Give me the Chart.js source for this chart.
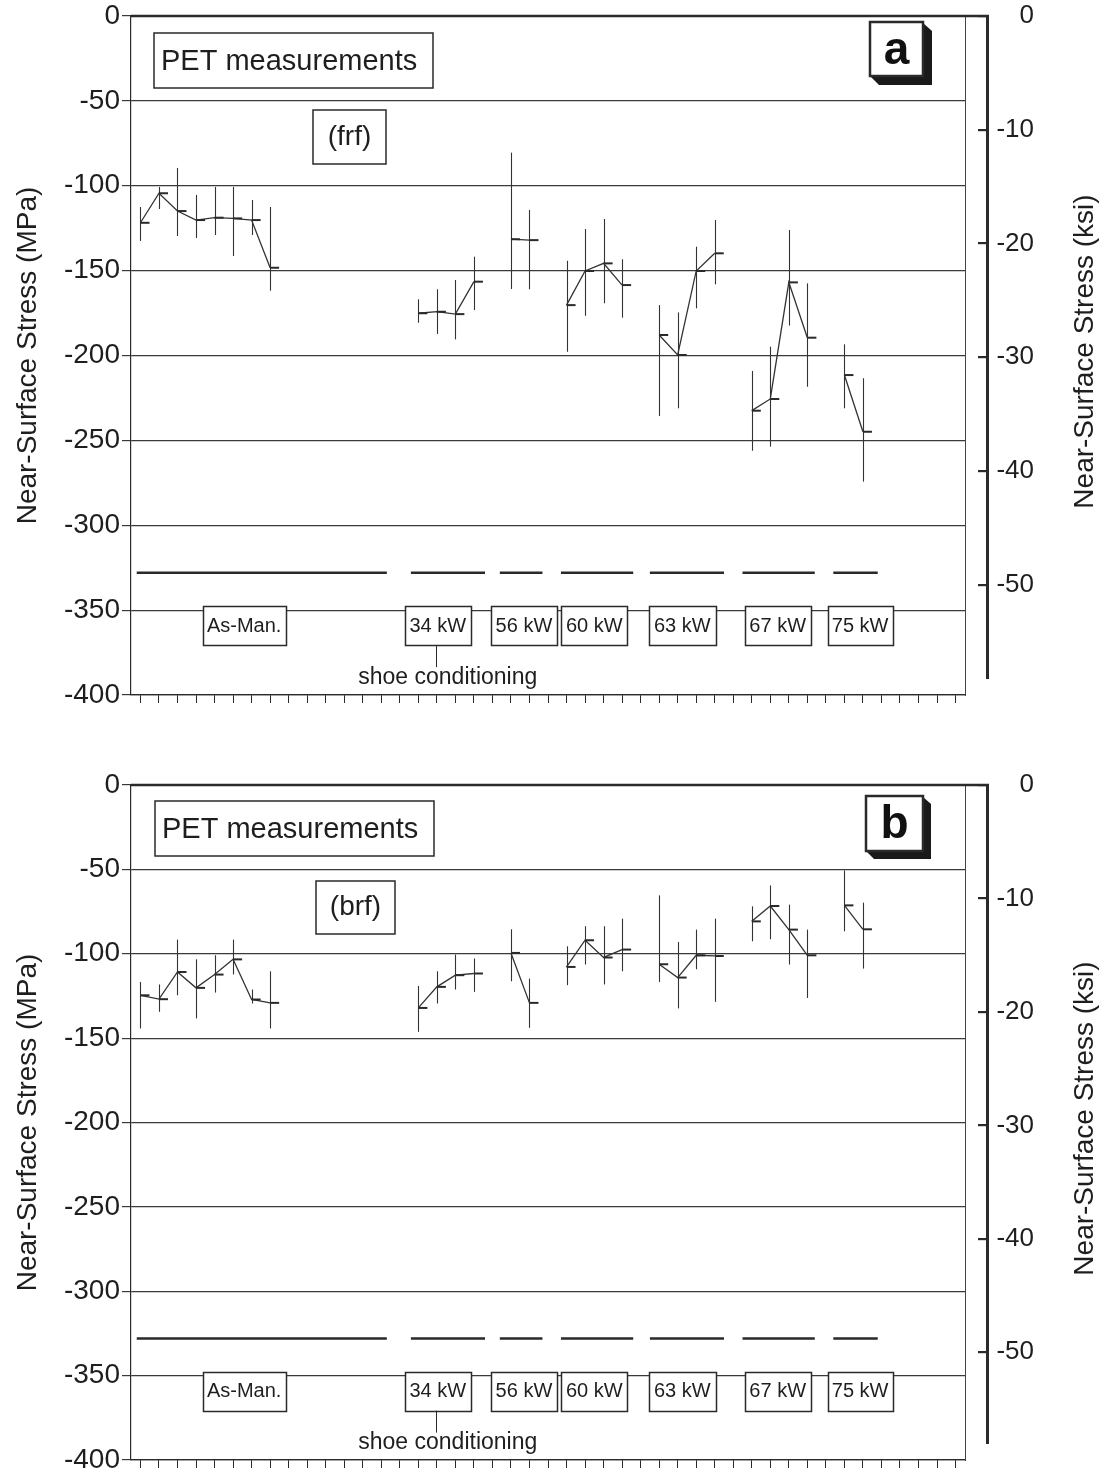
<!DOCTYPE html>
<html>
<head>
<meta charset="utf-8">
<title>PET measurements</title>
<script src="https://cdn.jsdelivr.net/npm/chart.js@4.4.1/dist/chart.umd.min.js"></script>
<style>
  html, body { margin: 0; padding: 0; background: #fff; }
  #wrap { position: relative; width: 1106px; height: 1472px; overflow: hidden; }
  canvas { position: absolute; left: 0; }
</style>
</head>
<body>
<div id="wrap">
  <canvas id="panelA" width="1106" height="768" style="top:0"></canvas>
  <canvas id="panelB" width="1106" height="704" style="top:768px"></canvas>
</div>
<script>
const INK = '#2a2a2a';
const FONT = '"Liberation Sans", Arial, Helvetica, sans-serif';

// measurement slots on the x axis, one group per condition (same in both panels)
const conditions = ['As-Man.', '34 kW', '56 kW', '60 kW', '63 kW', '67 kW', '75 kW'];
const slots = [
  [0, 1, 2, 3, 4, 5, 6, 7],
  [15, 16, 17, 18],
  [20, 21],
  [23, 24, 25, 26],
  [28, 29, 30, 31],
  [33, 34, 35, 36],
  [38, 39]
];

// panel a (frf): stress in MPa and the two ends of each error bar
const frfStress = [
  [-121.8, -104.4, -114.9, -120.2, -118.8, -119.2, -120.2, -148.3],
  [-175.1, -174.2, -175.6, -156.5],
  [-131.5, -132.0],
  [-170.3, -150.2, -145.7, -158.5],
  [-187.9, -199.7, -150.2, -139.8],
  [-232.5, -225.6, -156.9, -189.5],
  [-211.5, -244.9]
];
const frfUpper = [
  [-112.5, -100.7, -89.5, -105.4, -100.7, -100.7, -108.4, -112.5],
  [-166.9, -161.0, -155.5, -141.8],
  [-80.5, -114.3],
  [-144.2, -125.5, -119.6, -143.3],
  [-170.3, -174.6, -135.9, -120.2],
  [-209.1, -194.8, -126.1, -157.5],
  [-193.4, -213.4]
];
const frfLower = [
  [-132.5, -113.7, -129.6, -130.8, -129.0, -141.4, -129.0, -161.8],
  [-180.7, -187.3, -190.5, -173.2],
  [-160.8, -161.0],
  [-197.8, -176.6, -169.2, -177.7],
  [-235.6, -231.1, -172.2, -158.1],
  [-256.1, -253.7, -182.4, -218.4],
  [-231.1, -274.3]
];

// panel b (brf)
const brfStress = [
  [-124.6, -126.9, -110.8, -120.2, -112.3, -103.3, -127.1, -129.1],
  [-132.1, -119.6, -112.7, -111.7],
  [-99.5, -129.1],
  [-107.8, -92.0, -102.2, -97.5],
  [-106.2, -114.1, -100.9, -101.3],
  [-80.8, -71.7, -85.7, -100.9],
  [-71.3, -85.5]
];
const brfUpper = [
  [-116.7, -118.2, -91.6, -103.3, -100.9, -91.6, -121.2, -110.4],
  [-119.1, -110.4, -100.5, -102.8],
  [-85.5, -114.7],
  [-95.6, -83.7, -83.7, -79.2],
  [-65.4, -93.0, -85.7, -79.2],
  [-71.9, -59.5, -70.9, -85.7],
  [-50.6, -69.7]
];
const brfLower = [
  [-144.3, -134.4, -124.6, -138.3, -123.0, -112.3, -129.5, -144.3],
  [-146.3, -129.5, -121.2, -122.6],
  [-116.3, -143.9],
  [-118.6, -106.4, -118.2, -110.4],
  [-116.7, -132.4, -109.2, -128.5],
  [-92.6, -91.4, -106.4, -126.2],
  [-86.7, -108.8]
];

// dashed reference level and the slot ranges of its segments
const refLevel = -328;
const refSegments = [[-0.2, 13.3], [14.6, 18.6], [19.4, 21.7], [22.7, 26.6], [27.5, 31.5], [32.5, 36.4], [37.4, 39.8]];

// axes and their tick values
const slotTicks = Array.from({length: 45}, (_, i) => i);
const mpaTicks = [0, -50, -100, -150, -200, -250, -300, -350, -400];
const ksiTicks = [0, -10, -20, -30, -40, -50];

// label boxes under the data: centre in slot units, width in px
const labelBoxes = {
  centre: [5.6, 16.05, 20.7, 24.5, 29.25, 34.4, 38.85],
  width: [83, 66, 66, 66, 67, 66, 65]
};

// little dash drawn to the right of every measured point
const dash = document.createElement('canvas');
dash.width = 22; dash.height = 4;
const dg = dash.getContext('2d');
dg.fillStyle = INK;
dg.fillRect(11, 1, 9, 2);

function pointsOf(values) {
  const pts = [];
  slots.forEach((grp, g) => {
    grp.forEach((s, k) => pts.push({x: s, y: values[g][k]}));
    pts.push({x: grp[grp.length - 1] + 0.5, y: null});
  });
  return pts;
}

function refPoints() {
  const pts = [];
  refSegments.forEach(([a, b]) => {
    pts.push({x: a, y: refLevel}, {x: b, y: refLevel}, {x: b + 0.3, y: null});
  });
  return pts;
}

function line(ctx, x1, y1, x2, y2) {
  ctx.beginPath(); ctx.moveTo(x1, y1); ctx.lineTo(x2, y2); ctx.stroke();
}

function box(ctx, l, t, w, h, lw) {
  ctx.fillStyle = '#fff';
  ctx.fillRect(l, t, w, h);
  ctx.lineWidth = lw || 1.5;
  ctx.strokeStyle = INK;
  ctx.strokeRect(l, t, w, h);
}

function upText(ctx, s, cx, cy) {
  ctx.save();
  ctx.translate(cx, cy);
  ctx.rotate(-Math.PI / 2);
  ctx.fillText(s, 0, 0);
  ctx.restore();
}

function decor(p) {
  return {
    id: 'decor',
    beforeDatasetsDraw(chart) {
      const {ctx, scales: {x, y}} = chart;
      ctx.save();
      ctx.strokeStyle = '#333';
      ctx.lineWidth = 1.1;
      slots.forEach((grp, g) => grp.forEach((s, k) => {
        const px = Math.round(x.getPixelForValue(s)) + 0.5;
        line(ctx, px, y.getPixelForValue(p.upper[g][k]), px, y.getPixelForValue(p.lower[g][k]));
      }));
      ctx.restore();
    },
    afterDraw(chart) {
      const {ctx, chartArea: a, scales: {x, y, ksi}} = chart;
      ctx.save();
      ctx.strokeStyle = INK;
      ctx.lineWidth = 2.5;
      line(ctx, a.left, a.top, ksi.left + 2, a.top);
      ctx.lineWidth = 3;
      line(ctx, ksi.left + 0.5, a.top - 1, ksi.left + 0.5, a.bottom - 16);

      // axis titles, both read upward
      ctx.fillStyle = '#1e1e1e';
      ctx.font = '28px ' + FONT;
      ctx.textAlign = 'center';
      ctx.textBaseline = 'middle';
      const mid = (a.top + a.bottom) / 2;
      upText(ctx, 'Near-Surface Stress (MPa)', 28, mid);
      upText(ctx, 'Near-Surface Stress (ksi)', 1085, mid - 4);

      // "PET measurements"
      const [pl, pt, pw, ph] = p.petBox;
      box(ctx, pl, pt, pw, ph);
      ctx.fillStyle = '#1e1e1e';
      ctx.font = '29px ' + FONT;
      ctx.textAlign = 'left';
      ctx.textBaseline = 'alphabetic';
      ctx.fillText('PET measurements', pl + 7, pt + 37);

      // sample id
      const [sl, st, sw, sh] = p.sampleBox;
      box(ctx, sl, st, sw, sh);
      ctx.fillStyle = '#1e1e1e';
      ctx.font = '28px ' + FONT;
      ctx.textAlign = 'center';
      ctx.textBaseline = 'middle';
      ctx.fillText(p.sample, sl + sw / 2, st + sh / 2);

      // panel letter in a raised box
      const [ll, lt, lw, lh, d] = p.letterBox;
      ctx.fillStyle = '#1a1a1a';
      ctx.beginPath();
      ctx.moveTo(ll + lw, lt + 1);
      ctx.lineTo(ll + lw + d, lt + d);
      ctx.lineTo(ll + lw + d, lt + lh + d);
      ctx.lineTo(ll + d, lt + lh + d);
      ctx.lineTo(ll, lt + lh);
      ctx.closePath();
      ctx.fill();
      box(ctx, ll, lt, lw, lh, 2.5);
      ctx.fillStyle = '#111';
      ctx.font = 'bold 46px ' + FONT;
      ctx.fillText(p.letter, ll + lw / 2, lt + lh / 2 + 2);

      // condition boxes
      const bt = y.getPixelForValue(-350) - 4;
      ctx.font = '20px ' + FONT;
      conditions.forEach((c, i) => {
        const cx = x.getPixelForValue(labelBoxes.centre[i]);
        const w = labelBoxes.width[i];
        box(ctx, Math.round(cx - w / 2) + 0.5, Math.round(bt) + 0.5, w, 39);
        ctx.fillStyle = '#1e1e1e';
        ctx.fillText(c, cx, bt + 20);
      });

      // shoe conditioning note under the 34 kW box
      const sx = x.getPixelForValue(labelBoxes.centre[1]) - 2;
      ctx.lineWidth = 1;
      line(ctx, Math.round(sx) + 0.5, bt + 39, Math.round(sx) + 0.5, bt + 61);
      ctx.font = '23px ' + FONT;
      ctx.textBaseline = 'alphabetic';
      ctx.fillText('shoe conditioning', sx + 12, a.bottom - 11);
      ctx.restore();
    }
  };
}

const setTicks = values => s => { s.ticks = values.map(v => ({value: v})); };

function makePanel(p) {
  return new Chart(document.getElementById(p.canvas), {
    type: 'line',
    data: {
      datasets: [
        {
          data: refPoints(),
          borderColor: INK,
          borderWidth: 2.4,
          pointRadius: 0,
          spanGaps: false
        },
        {
          data: pointsOf(p.stress),
          borderColor: '#333',
          borderWidth: 1.3,
          pointStyle: dash,
          pointRadius: 3,
          spanGaps: false
        }
      ]
    },
    options: {
      responsive: false,
      animation: false,
      events: [],
      layout: {padding: {top: p.padTop, left: 0, right: 72, bottom: 0}},
      plugins: {legend: {display: false}, tooltip: {enabled: false}},
      scales: {
        x: {
          type: 'linear',
          min: -0.51,
          max: slotTicks.length - 0.49,
          afterBuildTicks: setTicks(slotTicks),
          afterFit: s => { s.height = p.xSpace; s.paddingLeft = 0; s.paddingRight = 0; },
          ticks: {display: false},
          grid: {drawOnChartArea: false, tickLength: 8, lineWidth: 1, color: INK},
          border: {color: INK, width: 1.2}
        },
        y: {
          type: 'linear',
          position: 'left',
          min: mpaTicks[mpaTicks.length - 1],
          max: mpaTicks[0],
          afterBuildTicks: setTicks(mpaTicks),
          afterFit: s => { s.width = 131; s.paddingTop = 0; s.paddingBottom = 0; },
          ticks: {padding: 2, color: '#1e1e1e', font: {size: 28, family: FONT}, callback: v => String(v)},
          grid: {color: '#3a3a3a', lineWidth: 1.2, tickLength: 9},
          border: {color: INK, width: 1.2}
        },
        gap: {
          type: 'linear',
          position: 'right',
          weight: 1,
          afterFit: s => { s.width = 22; s.paddingTop = 0; s.paddingBottom = 0; },
          ticks: {display: false},
          grid: {drawOnChartArea: false, drawTicks: false},
          border: {color: '#444', width: 1}
        },
        ksi: {
          type: 'linear',
          position: 'right',
          weight: 2,
          min: p.ksiMin,
          max: 0,
          afterBuildTicks: setTicks(ksiTicks),
          afterFit: s => { s.width = 47; s.paddingTop = 0; s.paddingBottom = 0; },
          ticks: {
            padding: 4, crossAlign: 'far', color: '#1e1e1e',
            font: {size: 26, family: FONT},
            callback: v => String(v)
          },
          grid: {drawOnChartArea: false, tickLength: -9, lineWidth: 2.2, color: INK},
          border: {display: false}
        }
      }
    },
    plugins: [decor(p)]
  });
}

Chart.defaults.font.family = FONT;

makePanel({
  canvas: 'panelA', padTop: 16, xSpace: 73, ksiMin: -59.7,
  stress: frfStress, upper: frfUpper, lower: frfLower,
  letter: 'a', letterBox: [870, 22, 53, 54, 9],
  sample: '(frf)', sampleBox: [313, 110, 73, 54],
  petBox: [154, 33, 279, 55]
});

makePanel({
  canvas: 'panelB', padTop: 17, xSpace: 12, ksiMin: -59.5,
  stress: brfStress, upper: brfUpper, lower: brfLower,
  letter: 'b', letterBox: [866, 28, 57, 55, 8],
  sample: '(brf)', sampleBox: [316, 113, 79, 53],
  petBox: [155, 33, 279, 55]
});
</script>
</body>
</html>
